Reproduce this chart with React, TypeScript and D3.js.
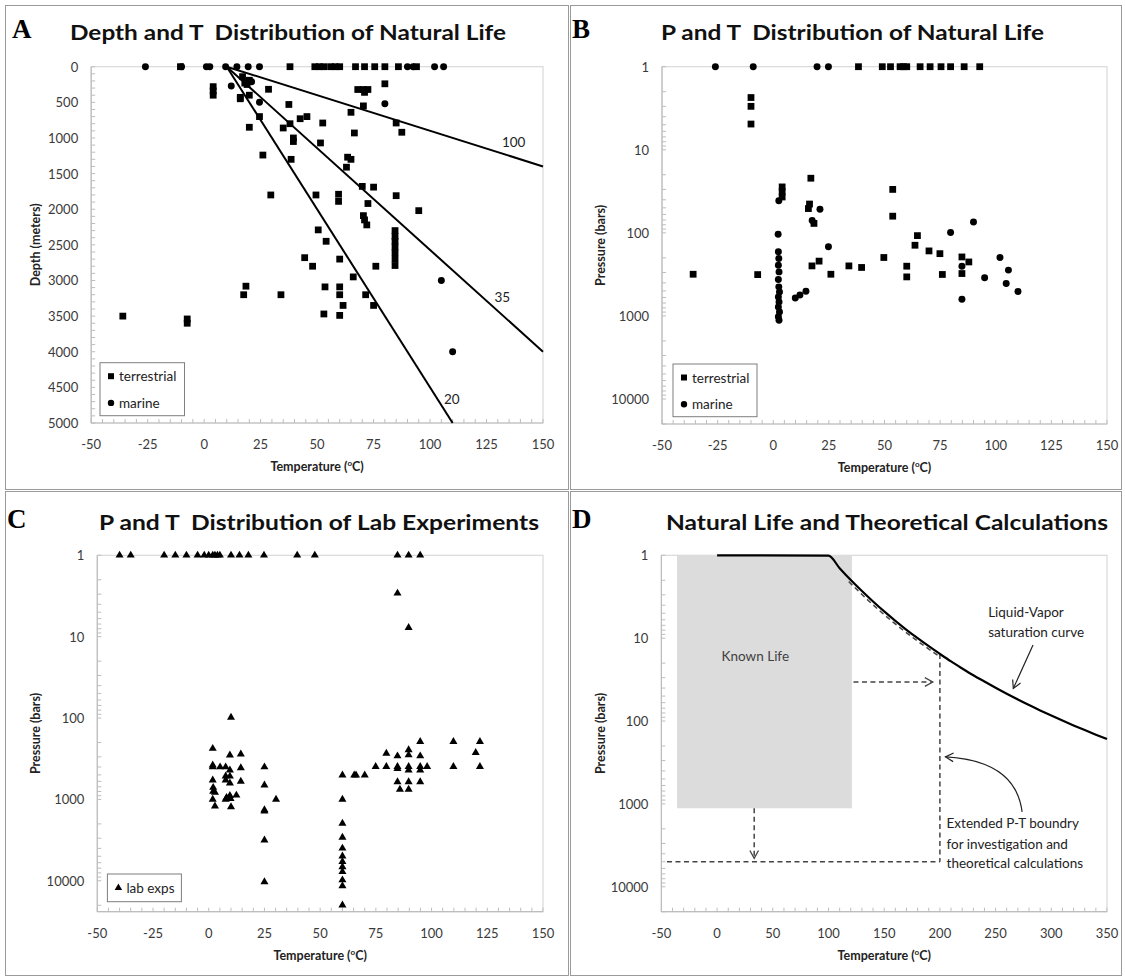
import React, { useEffect, useRef } from "react";
import * as d3 from "d3";

const FONT = "Lato, 'Open Sans', sans-serif";
const SERIF = "'Liberation Serif', 'DejaVu Serif', serif";

// ---- axis ticks ----
const tempTicks = [-50, -25, 0, 25, 50, 75, 100, 125, 150];
const tempTicksWide = [-50, 0, 50, 100, 150, 200, 250, 300, 350];
const depthTicks = [0, 500, 1000, 1500, 2000, 2500, 3000, 3500, 4000, 4500, 5000];
const pressureTicks = [1, 10, 100, 1000, 10000];

// ---- panel A: [temperature °C, depth m] ----
const depthTerrestrial: [number, number][] = [
  [-10.5, 0], [38, 0], [49, 0], [51, 0], [53, 0], [56, 0], [58, 0], [60, 0], [67, 0], [71, 0], [75.5, 0], [80, 0], [86, 0], [94, 0],
  [4, 280], [4, 340], [4, 400],
  [16, 430], [16, 450], [17, 140], [18, 230], [20, 400], [20, 190], [19, 250],
  [28.5, 317], [24.5, 700], [20, 850], [26, 1240], [29.5, 1800],
  [37.5, 530], [35, 860], [38, 800], [39.5, 1000], [39.5, 1050], [38.5, 1300],
  [42.5, 730], [45.5, 700], [52.5, 790], [51.5, 1070], [49.5, 1800], [50.5, 2290], [54, 2450], [44.5, 2680], [48, 2800],
  [53.5, 3090], [53, 3470], [60, 3090], [60, 3200], [61.5, 3350], [60, 3490], [60, 2700], [59.5, 1790], [59.5, 1890],
  [63, 1410], [63.5, 1270], [65, 1300], [65, 640], [66.5, 930],
  [68, 320], [70.5, 320], [72.5, 320], [71, 360], [70.5, 550],
  [70, 1680], [75, 1690], [72.5, 1920], [70.5, 2090], [71, 2150], [72, 2220],
  [66, 2950], [71.5, 3200], [75, 3350], [76, 2800],
  [80, 240], [85, 790], [87.5, 920], [85, 1810], [95, 2020],
  [84.5, 2300], [84.5, 2380], [84.5, 2450], [84.5, 2530], [84.5, 2610], [84.5, 2700], [84.5, 2790],
  [-36, 3500], [-7.5, 3540], [-7.5, 3600],
  [17.5, 3200], [18.5, 3080], [34, 3200],
];
const depthMarine: [number, number][] = [
  [-26, 0], [-10, 0], [1, 0], [2.5, 0], [9.5, 0], [14.5, 0], [19.5, 0], [24.5, 0], [90, 0], [92.5, 0], [102, 0], [106, 0],
  [12, 270], [24.5, 500], [80, 520], [105, 3000], [110, 4000], [21, 210],
];
// geotherms in °C/km, all starting at 10 °C at the surface
const geothermLabels = ["100", "35", "20"];
const geothermStart: [number, number] = [10, 0];
const geothermEnds: [number, number][] = [[150, 1400], [150, 4000], [110, 5000]];

// ---- panel B: [temperature °C, pressure bar] ----
const pressureTerrestrial: [number, number][] = [
  [38.3, 1], [49, 1], [52.7, 1], [57, 1], [58.5, 1], [60, 1], [66, 1], [70.5, 1], [75.4, 1], [79.7, 1], [85.8, 1], [92.8, 1],
  [-10, 2.35], [-10, 3.0], [-10, 4.9],
  [16.9, 22], [4, 28], [4, 32], [4, 37],
  [53.7, 30], [53.7, 63],
  [16.3, 45], [15.8, 51], [18.3, 77],
  [64.8, 108], [63.7, 141], [70, 165], [74.9, 178], [84.8, 195], [87.9, 224], [84.8, 309],
  [49.7, 198], [60, 252], [60, 339], [76, 317],
  [34, 250], [39.7, 261],
  [17.4, 250], [20.6, 219], [25.9, 315], [-7, 318], [-36, 315],
];
const pressureMarine: [number, number][] = [
  [-26, 1], [-9, 1], [19.7, 1], [24.8, 1],
  [2.5, 41], [2.2, 104], [17.5, 71], [21, 52], [24.8, 147],
  [2.3, 169], [2.5, 204], [2.3, 245], [2.6, 295], [2.3, 365], [2.5, 447], [2.8, 514], [2.3, 590], [2.6, 678],
  [2.3, 779], [2.8, 895], [2.3, 1025], [2.6, 1125],
  [9.9, 610], [12, 560], [14.7, 505],
  [90, 74], [79.7, 99], [84.8, 252], [101.9, 198], [105.7, 281], [95, 348], [104.7, 407], [110, 508], [84.8, 630],
];

// ---- panel C: lab experiments [temperature °C, pressure bar] ----
const labExps: [number, number][] = [
  [-40, 1], [-35, 1], [-20, 1], [-15, 1], [-10, 1], [-5, 1], [-2, 1], [0, 1], [1.8, 1], [2.8, 1], [3.9, 1], [5, 1],
  [10, 1], [13.8, 1], [17.8, 1], [24.8, 1], [39.7, 1], [47.6, 1], [84.7, 1], [89.7, 1], [94.9, 1],
  [84.7, 2.93], [89.7, 7.75], [10, 98],
  [1.8, 237], [1.8, 380], [1.8, 400], [1.8, 580], [2, 715], [2, 800], [2.8, 820], [1.8, 1000], [2.8, 1210],
  [5.1, 400], [7.6, 400], [7.6, 518], [7.6, 580], [7.6, 1000], [8, 950],
  [9.5, 286], [9.5, 437], [9.5, 520], [9.5, 630], [9.5, 900], [10, 1235], [9.8, 980],
  [12.4, 890], [14.4, 278], [14.4, 410], [14.4, 600],
  [25, 400], [25, 670], [25, 1350], [25, 1400], [25, 3170], [25, 10300], [30.2, 1000],
  [60, 504], [60, 1000], [60, 1970], [60, 2930], [60, 3990], [60, 4980], [60, 5840], [60, 6760], [60, 7760],
  [60, 9800], [60, 11600], [60, 19900],
  [65.3, 504], [66.1, 504], [70, 504], [74.9, 396], [79.7, 396], [79.7, 272],
  [84.7, 293], [84.7, 396], [84.7, 420], [84.7, 608], [85.8, 753],
  [89.7, 247], [89.7, 285], [89.7, 396], [89.7, 437], [89.7, 608], [89.7, 753],
  [94.9, 195], [94.9, 293], [94.9, 396], [94.9, 437], [94.9, 608], [98, 396],
  [109.8, 195], [109.8, 396], [119.8, 267], [121.7, 195], [121.7, 396],
];

// ---- panel D ----
const knownLifeT = [-36, 121];
const knownLifeP = [1, 1130];
// liquid-vapor saturation curve [°C, bar]
const saturationCurve: [number, number][] = [
  [0, 1], [100, 1.01], [110, 1.43], [120, 1.99], [130, 2.7], [140, 3.61], [150, 4.76], [160, 6.18], [170, 7.92],
  [180, 10.0], [190, 12.5], [200, 15.5], [210, 19.1], [220, 23.2], [230, 28.0], [240, 33.4], [250, 39.7],
  [260, 46.9], [270, 55.0], [280, 64.2], [290, 74.4], [300, 85.9], [310, 98.7], [320, 112.9], [330, 128.6],
  [340, 146.0], [350, 165.2],
];
const extendedT = [-45, 200];
const extendedP = 5000;

type Sel = d3.Selection<any, unknown, null, undefined>;

interface PanelCfg {
  ox: number; oy: number; letter: string; letterX: number;
  title: string; titleX0: number; titleX1: number;
  x0: number; x1: number; y0: number; y1: number;
  xDomain: [number, number]; xTicks: number[]; xMinor: number;
  yDomain: [number, number]; yLog: boolean; yTicks: number[]; yMinor: number;
  yTitle: string;
}

function drawPanel(svg: Sel, p: PanelCfg) {
  const g = svg.append("g");
  const x = d3.scaleLinear().domain(p.xDomain).range([p.x0, p.x1]);
  const y: any = p.yLog
    ? d3.scaleLog().domain(p.yDomain).range([p.y0, p.y1])
    : d3.scaleLinear().domain(p.yDomain).range([p.y0, p.y1]);

  g.append("text").attr("x", p.letterX).attr("y", p.oy + 38)
    .attr("font-family", SERIF).attr("font-weight", "bold").attr("font-size", 27).text(p.letter);

  g.append("text").attr("x", p.titleX0).attr("y", p.oy + 40)
    .attr("font-family", FONT).attr("font-weight", "bold").attr("font-size", 21)
    .attr("textLength", p.titleX1 - p.titleX0).attr("lengthAdjust", "spacingAndGlyphs")
    .style("white-space", "pre").attr("fill", "#111").text(p.title);

  g.append("rect").attr("x", p.x0).attr("y", p.y0).attr("width", p.x1 - p.x0).attr("height", p.y1 - p.y0)
    .attr("fill", "white").attr("stroke", "#d9d9d9").attr("stroke-width", 1.2);
  g.append("line").attr("x1", p.x0).attr("x2", p.x0).attr("y1", p.y0).attr("y2", p.y1)
    .attr("stroke", "#bdbdbd").attr("stroke-width", 1.2);
  g.append("line").attr("x1", p.x0).attr("x2", p.x1).attr("y1", p.y1).attr("y2", p.y1)
    .attr("stroke", "#bdbdbd").attr("stroke-width", 1.2);

  // minor ticks, inside
  const xm = d3.range(p.xDomain[0], p.xDomain[1] + 0.001, p.xMinor);
  g.selectAll(null).data(xm).enter().append("line")
    .attr("x1", (d) => x(d)).attr("x2", (d) => x(d)).attr("y1", p.y1).attr("y2", p.y1 - 4)
    .attr("stroke", "#bdbdbd");
  const ym = p.yLog
    ? d3.range(0, 5).flatMap((e) => d3.range(1, 10).map((m) => m * 10 ** e)).filter((v) => v <= p.yDomain[1])
    : d3.range(p.yDomain[0], p.yDomain[1] + 0.001, p.yMinor);
  g.selectAll(null).data(ym).enter().append("line")
    .attr("x1", p.x0).attr("x2", p.x0 + 4).attr("y1", (d) => y(d)).attr("y2", (d) => y(d))
    .attr("stroke", "#bdbdbd");

  g.selectAll(null).data(p.xTicks).enter().append("text")
    .attr("x", (d) => x(d)).attr("y", p.y1 + 21).attr("text-anchor", "middle").attr("dominant-baseline", "central")
    .attr("font-family", FONT).attr("font-size", 13).attr("fill", "#3a3a3a").text((d) => String(d));
  g.selectAll(null).data(p.yTicks).enter().append("text")
    .attr("x", p.x0 - 13).attr("y", (d) => y(d)).attr("text-anchor", "end").attr("dominant-baseline", "central")
    .attr("font-family", FONT).attr("font-size", 13).attr("fill", "#3a3a3a").text((d) => String(d));

  const xt = g.append("text").attr("x", (p.x0 + p.x1) / 2).attr("y", p.y1 + 48).attr("text-anchor", "middle")
    .attr("font-family", FONT).attr("font-weight", "bold").attr("font-size", 12.5).attr("fill", "#222");
  xt.append("tspan").text("Temperature (");
  xt.append("tspan").attr("font-size", 8).attr("dy", -5).text("o");
  xt.append("tspan").attr("dy", 5).text("C)");

  g.append("text").attr("transform", `translate(${p.ox + 35},${(p.y0 + p.y1) / 2}) rotate(-90)`)
    .attr("text-anchor", "middle").attr("dominant-baseline", "central")
    .attr("font-family", FONT).attr("font-weight", "bold").attr("font-size", 12.5).attr("fill", "#222")
    .text(p.yTitle);

  return { g, x, y };
}

function markers(g: Sel, data: [number, number][], x: any, y: any, type: d3.SymbolType, size: number) {
  const sym = d3.symbol().type(type).size(size);
  g.selectAll(null).data(data).enter().append("path")
    .attr("d", sym as any).attr("transform", (d) => `translate(${x(d[0])},${y(d[1])})`)
    .attr("fill", "#000");
}

function legend(g: Sel, bx: number, by: number, bw: number, bh: number,
  items: { type: d3.SymbolType; size: number; label: string }[]) {
  g.append("rect").attr("x", bx).attr("y", by).attr("width", bw).attr("height", bh)
    .attr("fill", "white").attr("stroke", "#7f7f7f").attr("stroke-width", 1);
  const step = items.length > 1 ? 26.7 : 0;
  const first = items.length > 1 ? by + 13.5 : by + bh / 2;
  items.forEach((it, i) => {
    const cy = first + i * step;
    g.append("path").attr("d", d3.symbol().type(it.type).size(it.size)() as string)
      .attr("transform", `translate(${bx + 11},${cy})`).attr("fill", "#000");
    g.append("text").attr("x", bx + 19).attr("y", cy).attr("dominant-baseline", "central")
      .attr("font-family", FONT).attr("font-size", 13.5).attr("fill", "#222").text(it.label);
  });
}

function chevron(g: Sel, tx: number, ty: number, angle: number, color: string, w = 1.3) {
  const L = 9, a = 0.5;
  const p1 = [tx - L * Math.cos(angle - a), ty - L * Math.sin(angle - a)];
  const p2 = [tx - L * Math.cos(angle + a), ty - L * Math.sin(angle + a)];
  g.append("path").attr("d", `M${p1[0]},${p1[1]}L${tx},${ty}L${p2[0]},${p2[1]}`)
    .attr("fill", "none").attr("stroke", color).attr("stroke-width", w);
}

export default function App() {
  const ref = useRef<SVGSVGElement>(null);

  useEffect(() => {
    const svg = d3.select(ref.current);
    svg.selectAll("*").remove();
    svg.append("rect").attr("width", 1125).attr("height", 979).attr("fill", "white");

    // panel frames
    [[5.5, 5.5, 563, 484], [570.5, 5.5, 551, 484], [5.5, 491.5, 563, 484], [570.5, 491.5, 551, 484]]
      .forEach(([fx, fy, fw, fh]) => svg.append("rect").attr("x", fx).attr("y", fy).attr("width", fw).attr("height", fh)
        .attr("fill", "none").attr("stroke", "#9a9a9a").attr("stroke-width", 1));

    // ---- A ----
    const A = drawPanel(svg, {
      ox: 0, oy: 0, letter: "A", letterX: 12, title: "Depth and T  Distribution of Natural Life", titleX0: 70, titleX1: 506,
      x0: 91.2, x1: 543, y0: 66.7, y1: 423,
      xDomain: [-50, 150], xTicks: tempTicks, xMinor: 5,
      yDomain: [0, 5000], yLog: false, yTicks: depthTicks, yMinor: 100, yTitle: "Depth (meters)",
    });
    geothermEnds.forEach((e) => {
      A.g.append("line").attr("x1", A.x(geothermStart[0])).attr("y1", A.y(geothermStart[1]))
        .attr("x2", A.x(e[0])).attr("y2", A.y(e[1])).attr("stroke", "#000").attr("stroke-width", 2);
    });
    const labelAt: [number, number][] = [[137, 1050], [132, 3230], [109.6, 4665]];
    geothermLabels.forEach((l, i) => {
      A.g.append("text").attr("x", A.x(labelAt[i][0])).attr("y", A.y(labelAt[i][1])).attr("text-anchor", "middle")
        .attr("dominant-baseline", "central").attr("font-family", FONT).attr("font-size", 13.5).attr("fill", "#222").text(l);
    });
    markers(A.g, depthTerrestrial, A.x, A.y, d3.symbolSquare, 46);
    markers(A.g, depthMarine, A.x, A.y, d3.symbolCircle, 38);
    legend(A.g, 100, 362.7, 84.5, 53, [
      { type: d3.symbolSquare, size: 36, label: "terrestrial" },
      { type: d3.symbolCircle, size: 32, label: "marine" },
    ]);

    // ---- B ----
    const B = drawPanel(svg, {
      ox: 565, oy: 0, letter: "B", letterX: 572, title: "P and T  Distribution of Natural Life", titleX0: 661, titleX1: 1044,
      x0: 662, x1: 1107, y0: 66.7, y1: 424,
      xDomain: [-50, 150], xTicks: tempTicks, xMinor: 5,
      yDomain: [1, 20000], yLog: true, yTicks: pressureTicks, yMinor: 0, yTitle: "Pressure (bars)",
    });
    markers(B.g, pressureTerrestrial, B.x, B.y, d3.symbolSquare, 46);
    markers(B.g, pressureMarine, B.x, B.y, d3.symbolCircle, 38);
    legend(B.g, 673, 364, 84, 52.7, [
      { type: d3.symbolSquare, size: 36, label: "terrestrial" },
      { type: d3.symbolCircle, size: 32, label: "marine" },
    ]);

    // ---- C ----
    const C = drawPanel(svg, {
      ox: 0, oy: 490, letter: "C", letterX: 7, title: "P and T  Distribution of Lab Experiments", titleX0: 99, titleX1: 539,
      x0: 97.3, x1: 543, y0: 555.3, y1: 911.7,
      xDomain: [-50, 150], xTicks: tempTicks, xMinor: 5,
      yDomain: [1, 24000], yLog: true, yTicks: pressureTicks, yMinor: 0, yTitle: "Pressure (bars)",
    });
    markers(C.g, labExps, C.x, C.y, d3.symbolTriangle, 28);
    legend(C.g, 107.4, 874, 74, 27.7, [{ type: d3.symbolTriangle, size: 24, label: "lab exps" }]);

    // ---- D ----
    const D = drawPanel(svg, {
      ox: 565, oy: 490, letter: "D", letterX: 572, title: "Natural Life and Theoretical Calculations", titleX0: 666, titleX1: 1108,
      x0: 661.4, x1: 1107, y0: 555.3, y1: 911.7,
      xDomain: [-50, 350], xTicks: tempTicksWide, xMinor: 10,
      yDomain: [1, 20000], yLog: true, yTicks: pressureTicks, yMinor: 0, yTitle: "Pressure (bars)",
    });
    D.g.append("rect").attr("x", D.x(knownLifeT[0])).attr("y", D.y(knownLifeP[0]))
      .attr("width", D.x(knownLifeT[1]) - D.x(knownLifeT[0])).attr("height", D.y(knownLifeP[1]) - D.y(knownLifeP[0]))
      .attr("fill", "#dcdcdc");
    D.g.append("text").attr("x", D.x(34.3)).attr("y", D.y(16.3)).attr("text-anchor", "middle").attr("dominant-baseline", "central")
      .attr("font-family", FONT).attr("font-size", 13.5).attr("fill", "#404040").text("Known Life");

    const dash = "5,3.5", dashCol = "#444";
    const line = d3.line<[number, number]>().x((d) => D.x(d[0])).y((d) => D.y(d[1])).curve(d3.curveMonotoneX);
    // dashed boundary following the curve
    D.g.append("path").attr("d", line(saturationCurve.filter((d) => d[0] >= 120 && d[0] <= 200)) as string)
      .attr("transform", "translate(-2,1.5)").attr("fill", "none").attr("stroke", dashCol).attr("stroke-width", 1.5)
      .attr("stroke-dasharray", dash);
    const satAt200 = saturationCurve.find((d) => d[0] === extendedT[1])![1];
    D.g.append("line").attr("x1", D.x(extendedT[1])).attr("x2", D.x(extendedT[1]))
      .attr("y1", D.y(satAt200)).attr("y2", D.y(extendedP))
      .attr("stroke", dashCol).attr("stroke-width", 1.5).attr("stroke-dasharray", dash);
    D.g.append("line").attr("x1", D.x(extendedT[0])).attr("x2", D.x(extendedT[1]))
      .attr("y1", D.y(extendedP)).attr("y2", D.y(extendedP))
      .attr("stroke", dashCol).attr("stroke-width", 1.5).attr("stroke-dasharray", dash);
    // expansion arrows
    D.g.append("line").attr("x1", D.x(122.4)).attr("x2", D.x(193.6)).attr("y1", D.y(33.8)).attr("y2", D.y(33.8))
      .attr("stroke", dashCol).attr("stroke-width", 1.5).attr("stroke-dasharray", dash);
    chevron(D.g, D.x(193.6), D.y(33.8), 0, dashCol);
    D.g.append("line").attr("x1", D.x(33.3)).attr("x2", D.x(33.3)).attr("y1", D.y(1130)).attr("y2", D.y(4550))
      .attr("stroke", dashCol).attr("stroke-width", 1.5).attr("stroke-dasharray", dash);
    chevron(D.g, D.x(33.3), D.y(4550), Math.PI / 2, dashCol);

    D.g.append("path").attr("d", line(saturationCurve) as string).attr("fill", "none")
      .attr("stroke", "#000").attr("stroke-width", 2.2);

    // annotations
    const ann = (t: string, T: number, P: number) =>
      D.g.append("text").attr("x", D.x(T)).attr("y", D.y(P)).attr("dominant-baseline", "central")
        .attr("font-family", FONT).attr("font-size", 13.5).attr("fill", "#222").text(t);
    ann("Liquid-Vapor", 243.3, 4.8);
    ann("saturation curve", 243.3, 8.4);
    ann("Extended P-T boundry", 206, 1720);
    ann("for investigation and", 206, 3010);
    ann("theoretical calculations", 206, 5160);

    const s1 = [D.x(283.6), D.y(12.1)], e1 = [D.x(265.9), D.y(40.4)];
    D.g.append("line").attr("x1", s1[0]).attr("y1", s1[1]).attr("x2", e1[0]).attr("y2", e1[1])
      .attr("stroke", "#222").attr("stroke-width", 1.2);
    chevron(D.g, e1[0], e1[1], Math.atan2(e1[1] - s1[1], e1[0] - s1[0]), "#222", 1.2);

    const s2 = [D.x(273.8), D.y(1250)], c2 = [D.x(268), D.y(300)], e2 = [D.x(205), D.y(271)];
    D.g.append("path").attr("d", `M${s2[0]},${s2[1]}Q${c2[0]},${c2[1]} ${e2[0]},${e2[1]}`)
      .attr("fill", "none").attr("stroke", "#222").attr("stroke-width", 1.2);
    chevron(D.g, e2[0], e2[1], Math.atan2(e2[1] - c2[1], e2[0] - c2[0]), "#222", 1.2);
  }, []);

  return (
    <svg ref={ref} width={1125} height={979} style={{ position: "absolute", left: 0, top: 0, display: "block" }} />
  );
}
